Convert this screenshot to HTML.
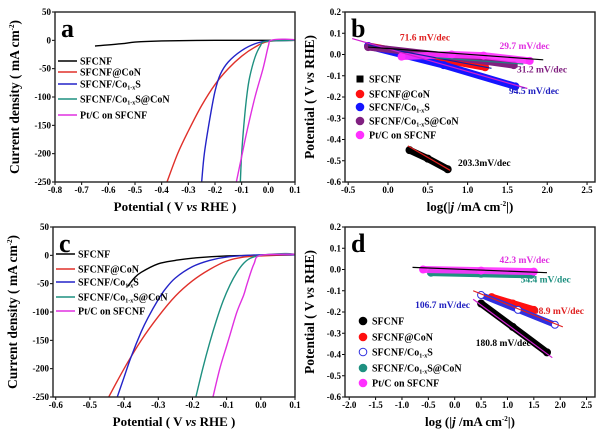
<!DOCTYPE html>
<html><head><meta charset="utf-8"><style>
html,body{margin:0;padding:0;background:#fff;}
svg{display:block;font-family:"Liberation Serif",serif;font-weight:bold;}
text{font-weight:bold;}
</style></head><body>
<svg id="fig" width="600" height="434" viewBox="0 0 600 434" xmlns="http://www.w3.org/2000/svg"></svg>
<script>
// ---------- DATA ----------
const names=["SFCNF","SFCNF@CoN","SFCNF/Co1-xS","SFCNF/Co1-xS@CoN","Pt/C on SFCNF"];
const colsLSV=["#000","#e0302a","#2323c8","#1e9080","#e030e0"];
// panel a polarization curves (V, mA cm-2)
const aX=[[-0.65,-0.55,-0.5,-0.4,-0.2,0,0.1],[-0.38,-0.34,-0.3,-0.25,-0.2,-0.15,-0.1,-0.05,0,0.1],[-0.25,-0.24,-0.22,-0.2,-0.18,-0.15,-0.1,-0.05,0,0.1],[-0.105,-0.1,-0.09,-0.08,-0.07,-0.05,-0.03,-0.01,0.1],[-0.12,-0.1,-0.08,-0.05,-0.02,0,0.01,0.06,0.1]];
const aY=[[-10,-6,-3,-1,0,0,0],[-250,-200,-160,-115,-78,-50,-28,-12,-2,0],[-250,-200,-140,-90,-60,-38,-18,-6,-1,0],[-250,-200,-140,-95,-65,-30,-10,-2,0],[-250,-205,-160,-100,-50,-10,0,2,1]];
// panel c
const cX=[[-0.39,-0.37,-0.35,-0.3,-0.25,-0.2,-0.1,0.1],[-0.445,-0.4,-0.35,-0.3,-0.25,-0.2,-0.15,-0.1,-0.05,0,0.1],[-0.42,-0.4,-0.38,-0.35,-0.33,-0.3,-0.28,-0.25,-0.2,-0.15,-0.1,0,0.1],[-0.19,-0.17,-0.15,-0.13,-0.11,-0.09,-0.07,-0.05,-0.03,0,0.07,0.1],[-0.14,-0.12,-0.1,-0.09,-0.07,-0.05,-0.04,-0.02,0,0.1]];
const cY=[[-55,-40,-30,-15,-9,-5,-1,1],[-250,-200,-150,-108,-72,-45,-25,-10,-3,-1,1],[-250,-215,-180,-135,-110,-78,-60,-40,-20,-9,-3,1,1],[-250,-200,-155,-115,-80,-52,-30,-14,-5,0,3,2],[-250,-200,-160,-140,-100,-70,-50,-15,0,2]];
// panel b Tafel (log j, V)
const bCols=["#000","#ff1010","#1515ff","#802080","#ff30ff"];
const bX=[[0.27,0.5,0.75],[-0.25,0.5,1.22],[-0.25,0.7,1.6],[-0.25,0.7,1.58],[0.17,0.8,1.2,1.78]];
const bY=[[-0.45,-0.49,-0.54],[0.04,-0.01,-0.06],[0.04,-0.05,-0.15],[0.035,-0.005,-0.05],[-0.01,0.0,-0.005,-0.03]];
const bFitX=[[0.25,0.78],[-0.25,1.3],[-0.45,1.75],[0.6,1.7],[-0.25,1.95]];
const bFitY=[[-0.43,-0.545],[0.045,-0.065],[0.075,-0.16],[-0.015,-0.045],[0.035,-0.025]];
const bFitC=["#e02020","#1020a0","#d020d0","#208080","#000"];
const bLab=["203.3mV/dec","71.6 mV/dec","94.5 mV/dec","31.2 mV/dec","29.7 mV/dec"];
const bLabX=[0.88,0.15,1.52,1.62,1.4];
const bLabY=[-0.525,0.065,-0.185,-0.085,0.025];
// panel d
const dCols=["#000","#ff1010","#3030e0","#1e9080","#ff30ff"];
const dX=[[0.5,1.1,1.75],[0.7,1.1,1.5],[0.5,1.2,1.9],[-0.45,0.5,1.45],[-0.6,0.5,1.5]];
const dY=[[-0.16,-0.27,-0.39],[-0.13,-0.16,-0.19],[-0.12,-0.19,-0.26],[-0.015,-0.02,-0.025],[0.0,-0.005,-0.01]];
const dFitX=[[0.35,1.85],[0.35,2.05],[-0.8,1.75]];
const dFitY=[[-0.14,-0.415],[-0.1,-0.27],[0.01,-0.015]];
const dFitC=["#d020d0","#e02020","#000"];
const dLab=["180.8 mV/dec","98.9 mV/dec","106.7 mV/dec","54.4 mV/dec","42.3 mV/dec"];
const dLabX=[0.4,1.5,-0.75,1.25,0.85];
const dLabY=[-0.36,-0.21,-0.18,-0.06,0.03];
const dLabC=["#000","#e02020","#2020c0","#1e9080","#e030e0"];
const tickA=[-0.8,-0.7,-0.6,-0.5,-0.4,-0.3,-0.2,-0.1,0.0,0.1];
const tickC=[-0.6,-0.5,-0.4,-0.3,-0.2,-0.1,0.0,0.1];
const tickJ=[50,0,-50,-100,-150,-200,-250];
const tickBx=[-0.5,0.0,0.5,1.0,1.5,2.0,2.5];
const tickDx=[-2.0,-1.5,-1.0,-0.5,0.0,0.5,1.0,1.5,2.0,2.5];
const tickV=[0.2,0.1,0.0,-0.1,-0.2,-0.3,-0.4,-0.5,-0.6];

// ---------- DRAW ----------
const svg=document.getElementById('fig');
const NS="http://www.w3.org/2000/svg";
function el(tag,attrs,parent,text){const e=document.createElementNS(NS,tag);for(const k in attrs)e.setAttribute(k,attrs[k]);if(text!==undefined)e.textContent=text;(parent||svg).appendChild(e);return e;}
function fmt(v,d){return v.toFixed(d);}
function smooth(p){let d='M'+p[0][0]+','+p[0][1];
  for(let i=0;i<p.length-1;i++){const p0=p[Math.max(0,i-1)],p1=p[i],p2=p[i+1],p3=p[Math.min(p.length-1,i+2)];
    const c1x=p1[0]+(p2[0]-p0[0])/6,c1y=p1[1]+(p2[1]-p0[1])/6,c2x=p2[0]-(p3[0]-p1[0])/6,c2y=p2[1]-(p3[1]-p1[1])/6;
    d+=` C${c1x},${c1y} ${c2x},${c2y} ${p2[0]},${p2[1]}`;}return d;}
function panel(P){
  const g=el('g',{});
  
  
  const sx=v=>P.L+(v-P.x0)/(P.x1-P.x0)*(P.R-P.L);
  const sy=v=>P.B-(v-P.y0)/(P.y1-P.y0)*(P.B-P.T);
  P.sx=sx;P.sy=sy;P.g=g;
  const xt=el('g',{},g);
  P.xticks.forEach(t=>{const x=sx(t);el('line',{x1:x,x2:x,y1:P.B,y2:P.B+3,stroke:'#000','stroke-width':1},xt);
    el('text',{x:x,y:P.B+11,'font-size':9,'font-weight':'bold','text-anchor':'middle'},xt,fmt(t,1));});
  const yt=el('g',{},g);
  P.yticks.forEach(t=>{const y=sy(t);el('line',{x1:P.L-3,x2:P.L,y1:y,y2:y,stroke:'#000','stroke-width':1},yt);
    el('text',{x:P.L-4,y:y+3,'font-size':9,'font-weight':'bold','text-anchor':'end'},yt,fmt(t,P.yd));});
  const xtl=el('text',{x:(P.L+P.R)/2,y:P.B+29,'font-size':13,'font-weight':'bold','text-anchor':'middle'},g);
  
  xtl.innerHTML=P.xtitle;
  const ytl=el('text',{x:0,y:0,'font-size':13.5,'font-weight':'bold','text-anchor':'middle',transform:`translate(${P.L-(P.yd?31:36)},${(P.T+P.B)/2}) rotate(-90)`},g);
  
  ytl.innerHTML=P.ytitle;
  const lt=el('text',{x:P.L+6,y:P.T+25,'font-size':26,'font-weight':'bold'},g,P.letter);
  
  return g;
}
function frame(P){const r=el('rect',{x:P.L,y:P.T,width:P.R-P.L,height:P.B-P.T,fill:'none',stroke:'#222','stroke-width':1.4},P.g);
  }
function lsv(P,X,Y){
  const clip='clip'+P.letter;
  const cp=el('clipPath',{id:clip},P.g);el('rect',{x:P.L,y:P.T,width:P.R-P.L,height:P.B-P.T},cp);
  X.forEach((xs,i)=>{const pts=xs.map((x,k)=>[P.sx(x),P.sy(Y[i][k])]);
    const pl=el('path',{d:smooth(pts),fill:'none',stroke:colsLSV[i],'stroke-width':1.4,'clip-path':`url(#${clip})`},P.g);
    });
  const lg=el('g',{},P.g);
  names.forEach((n,i)=>{const y=P.legY[i];
    el('line',{x1:P.legX,x2:P.legX+19,y1:y,y2:y,stroke:colsLSV[i],'stroke-width':1.4},lg);
    const t=el('text',{x:P.legX+22,y:y+3.5,'font-size':10,'font-weight':'bold'},lg);
    
    t.innerHTML=n.replace('Co1-xS','Co<tspan font-size="6" dy="2">1-x</tspan><tspan dy="-2">S</tspan>');});
}
function tafel(P,X,Y,cols,FX,FY,FC,labs,LX,LY,LC,open,sq){
  X.forEach((xs,i)=>{
    const pts=xs.map((x,k)=>P.sx(x)+','+P.sy(Y[i][k])).join(' ');
    const pl=el('polyline',{points:pts,fill:'none',stroke:cols[i],'stroke-width':(open&&i===2)?6:7,'stroke-linecap':'round','stroke-linejoin':'round',opacity:(i===4?0.9:1)},P.g);
    
    xs.forEach((x,k)=>{const c=el('circle',{cx:P.sx(x),cy:P.sy(Y[i][k]),r:3.5,fill:(open&&i===2)?'#fff':cols[i],stroke:cols[i],'stroke-width':1},P.g);
      });
  });
  FX.forEach((fx,i)=>{const l=el('line',{x1:P.sx(fx[0]),x2:P.sx(fx[1]),y1:P.sy(FY[i][0]),y2:P.sy(FY[i][1]),stroke:FC[i],'stroke-width':1.2},P.g);
    });
  labs.forEach((s,i)=>{const t=el('text',{x:P.sx(LX[i]),y:P.sy(LY[i]),'font-size':9.5,'font-weight':'bold',fill:LC[i]},P.g,s);
    });
  const lg=el('g',{},P.g);
  names.forEach((n,i)=>{const y=P.legY[i];
    if(sq&&i===0) el('rect',{x:P.legX-3.5,y:y-3.5,width:7,height:7,fill:'#000'},lg);
    else el('circle',{cx:P.legX,cy:y,r:3.8,fill:(open&&i===2)?'#fff':cols[i],stroke:cols[i],'stroke-width':1},lg);
    const t=el('text',{x:P.legX+9,y:y+3.5,'font-size':10,'font-weight':'bold'},lg);
    
    t.innerHTML=n.replace('Co1-xS','Co<tspan font-size="6" dy="2">1-x</tspan><tspan dy="-2">S</tspan>');});
}
const yJ='Current density ( mA cm<tspan font-size="7" dy="-5">-2</tspan><tspan dy="5">)</tspan>';
const xV='Potential ( V <tspan font-style="italic">vs</tspan> RHE )';
const yV='Potential ( V <tspan font-style="italic">vs</tspan> RHE)';
const xJ='log(|<tspan font-style="italic">j</tspan> /mA cm<tspan font-size="7" dy="-5">-2</tspan><tspan dy="5">|)</tspan>';
const PA={name:'panel-a',letter:'a',L:55,R:295,T:12,B:182,x0:-0.8,x1:0.1,y0:-250,y1:50,xticks:tickA,yticks:tickJ,yd:0,xtitle:xV,ytitle:yJ,legX:58,legY:[61,72,84,99,115]};
panel(PA);lsv(PA,aX,aY);frame(PA);
const PC={name:'panel-c',letter:'c',L:53,R:295,T:227,B:397,x0:-0.608,x1:0.1,y0:-250,y1:50,xticks:tickC,yticks:tickJ,yd:0,xtitle:xV,ytitle:yJ,legX:56,legY:[254,269,282,297,311]};
panel(PC);lsv(PC,cX,cY);frame(PC);
const PB={name:'panel-b',letter:'b',L:345,R:595,T:12,B:182,x0:-0.54,x1:2.6,y0:-0.6,y1:0.2,xticks:tickBx,yticks:tickV,yd:1,xtitle:xJ,ytitle:yV,legX:360,legY:[79,94,107,121,135]};
panel(PB);tafel(PB,bX,bY,bCols,bFitX,bFitY,bFitC,bLab,bLabX,bLabY,["#000","#e02020","#2020c0","#802080","#e030e0"],false,true);frame(PB);
const PD={name:'panel-d',letter:'d',L:345,R:595,T:227,B:397,x0:-2.08,x1:2.66,y0:-0.6,y1:0.2,xticks:tickDx,yticks:tickV,yd:1,xtitle:'log (|<tspan font-style="italic">j</tspan> /mA cm<tspan font-size="7" dy="-5">-2</tspan><tspan dy="5">|)</tspan>',ytitle:yV,legX:363,legY:[321,337,352,368,383]};
panel(PD);tafel(PD,dX,dY,dCols,dFitX,dFitY,dFitC,dLab,dLabX,dLabY,dLabC,true,false);frame(PD);
</script>
</body></html>
